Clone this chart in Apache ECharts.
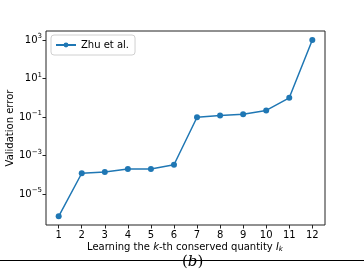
<!DOCTYPE html>
<html>
<head>
<meta charset="utf-8">
<script src="https://cdn.jsdelivr.net/npm/echarts@6/dist/echarts.min.js"></script>
<style>
html,body{margin:0;padding:0;background:#fff;}
#c{width:364px;height:271px;}
</style>
</head>
<body>
<div id="c"></div>
<script>
// Data
const categories = [1, 2, 3, 4, 5, 6, 7, 8, 9, 10, 11, 12];
const zhuValues = [6.9e-7, 1.2e-4, 1.4e-4, 2.0e-4, 2.0e-4, 3.3e-4, 0.097, 0.12, 0.14, 0.22, 1.0, 1000];
const yTickExponents = [-5, -3, -1, 1, 3];
const seriesName = 'Zhu et al.';

const FONT = 'DejaVu Sans';
const chart = echarts.init(document.getElementById('c'), null, {renderer: 'canvas'});

const data = categories.map((k, i) => [k, Math.log10(zhuValues[i])]);

chart.setOption({
  animation: false,
  backgroundColor: '#fff',
  textStyle: {fontFamily: FONT},
  grid: {left: 46, top: 31, right: 39, bottom: 46, show: true, borderColor: '#222', borderWidth: 1, backgroundColor: 'transparent', containLabel: false, outerBoundsMode: 'none'},
  legend: {
    show: true,
    left: 51, top: 35,
    orient: 'vertical',
    itemWidth: 20, itemHeight: 6,
    itemGap: 4,
    padding: [5, 6, 5, 4],
    borderColor: '#d0d0d0', borderWidth: 1, borderRadius: 3,
    backgroundColor: '#fff',
    textStyle: {fontFamily: FONT, fontSize: 10, color: '#000'},
    data: [{name: seriesName}]
  },
  xAxis: {
    type: 'value',
    min: 0.45, max: 12.55,
    axisLine: {show: false, onZero: false},
    splitLine: {show: false},
    axisTick: {show: true, length: 3.5, lineStyle: {color: '#222'}, customValues: categories},
    axisLabel: {fontFamily: FONT, fontSize: 10, color: '#000', margin: 5, customValues: categories}
  },
  yAxis: {
    type: 'value',
    min: -6.61, max: 3.47,
    axisLine: {show: false, onZero: false},
    splitLine: {show: false},
    axisTick: {show: true, length: 3.5, lineStyle: {color: '#222'}, customValues: yTickExponents},
    axisLabel: {
      customValues: yTickExponents,
      margin: 4,
      color: '#000',
      formatter: v => '{b|10}{s|' + (v < 0 ? '\u2212' + (-v) : v) + '}',
      rich: {
        b: {fontFamily: FONT, fontSize: 10, color: '#000'},
        s: {fontFamily: FONT, fontSize: 7, color: '#000', padding: [0, 0, 7, 0]}
      }
    }
  },
  series: [{
    name: seriesName,
    type: 'line',
    data: data,
    symbol: 'circle',
    symbolSize: 6,
    showSymbol: true,
    lineStyle: {color: '#1f77b4', width: 1.5},
    itemStyle: {color: '#1f77b4'}
  }],
  graphic: [
    {
      type: 'text',
      x: 10, y: 128,
      rotation: Math.PI / 2,
      style: {
        text: 'Validation error',
        fontFamily: FONT, fontSize: 10, fill: '#000',
        align: 'center', verticalAlign: 'middle'
      }
    },
    {
      type: 'text',
      left: 87, top: 242,
      style: {
        text: '{n|Learning the }{i|k}{n|-th conserved quantity }{i|I}{sub|k}',
        rich: {
          n: {fontFamily: FONT, fontSize: 10, fill: '#000'},
          i: {fontFamily: FONT, fontSize: 10, fontStyle: 'italic', fill: '#000'},
          sub: {fontFamily: FONT, fontSize: 7, fontStyle: 'italic', fill: '#000', padding: [5, 0, 0, 0]}
        }
      }
    },
    {
      type: 'text',
      left: 182, top: 255,
      style: {
        text: '{p|(}{b|b}{p|)}',
        rich: {
          p: {fontFamily: 'DejaVu Serif', fontSize: 15, fill: '#000'},
          b: {fontFamily: 'DejaVu Serif', fontSize: 15, fontStyle: 'italic', fill: '#000'}
        }
      }
    },
    {
      type: 'line',
      shape: {x1: 0, y1: 260.5, x2: 364, y2: 260.5},
      style: {stroke: '#000', lineWidth: 1.2}
    }
  ]
});
</script>
</body>
</html>
